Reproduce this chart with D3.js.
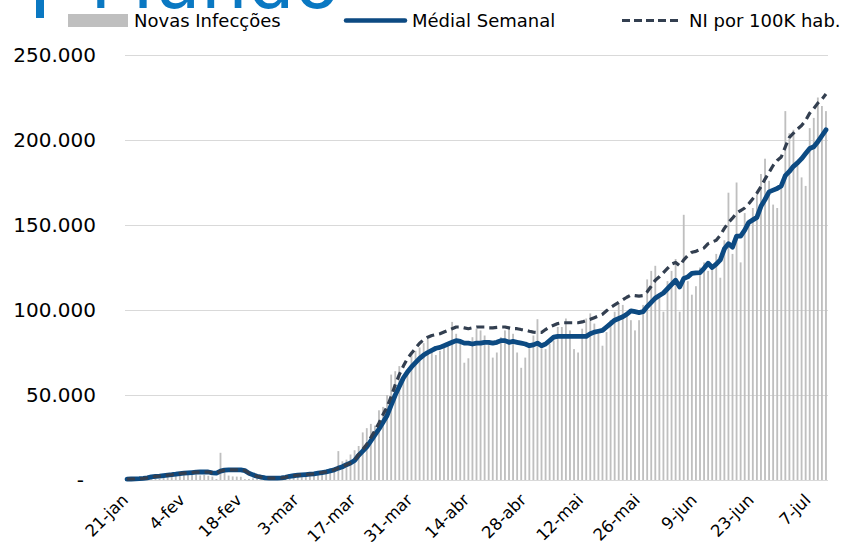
<!DOCTYPE html>
<html><head><meta charset="utf-8">
<script src="https://cdn.jsdelivr.net/npm/d3@7/dist/d3.min.js"></script>
<style>
html,body{margin:0;padding:0;background:#fff;}
svg{display:block;font-family:"DejaVu Sans",sans-serif;}
</style></head>
<body><svg id="chart" width="846" height="545"></svg>
<script>
// ---- data (values in thousands) ----
const tickLabels = ["21-jan","4-fev","18-fev","3-mar","17-mar","31-mar","14-abr","28-abr","12-mai","26-mai","9-jun","23-jun","7-jul"];
const yTicks = [0, 50, 100, 150, 200, 250];
const newCasesK = [0.3,0.1,0.3,0.5,0.7,0.8,1.2,2.6,0.6,2.0,
1.7,2.1,2.6,3.0,3.9,3.7,3.2,3.4,2.7,3.0,
2.5,2.0,0.6,16.0,5.1,2.6,2.1,2.0,1.9,0.5,
0.6,1.0,1.3,0.3,0.5,0.9,1.0,1.3,1.4,1.8,
1.9,2.0,2.4,2.2,2.7,3.9,3.8,4.1,3.8,4.6,
7.0,7.2,17.0,11.0,12.0,15.0,17.5,20.0,28.0,30.5,
33.0,32.0,41.0,43.0,50.0,62.0,64.0,67.0,60.0,62.0,
75.0,76.0,78.0,80.5,83.0,77.0,73.5,76.0,78.0,80.5,
93.0,86.0,80.0,69.0,71.6,84.0,89.0,88.0,85.0,80.0,
72.0,75.0,84.0,88.0,89.0,86.0,75.0,66.0,72.0,79.0,
85.0,94.6,79.0,77.0,80.0,82.0,90.0,90.0,95.0,88.0,
77.0,75.0,89.0,95.0,98.0,92.0,88.0,79.0,87.0,94.0,
99.0,104.0,103.0,99.0,94.0,88.0,94.0,103.0,118.0,123.0,
126.0,110.0,99.0,117.0,123.0,130.0,99.0,156.0,117.0,109.0,
114.0,125.0,128.0,123.0,126.0,133.0,119.0,141.0,169.0,133.0,
175.0,128.0,157.0,153.0,160.0,168.0,180.0,189.0,176.0,162.0,
160.0,175.0,217.0,204.0,206.0,185.0,178.0,173.0,207.0,213.0,
225.0,220.0,217.0];
const weeklyAvgK = [0.5,0.6,0.7,0.8,1.0,1.3,1.8,2.1,2.3,2.6,
2.9,3.1,3.4,3.8,4.0,4.2,4.4,4.6,4.7,4.7,
4.7,4.2,4.0,5.2,5.8,5.9,5.9,5.9,5.9,5.5,
4.0,3.0,2.2,1.7,1.3,1.1,1.1,1.1,1.2,1.6,
2.2,2.5,2.8,3.0,3.2,3.4,3.6,4.0,4.4,4.8,
5.4,6.0,7.0,7.8,9.0,10.0,11.5,14.5,17.0,19.5,
23.0,26.5,30.0,34.0,38.0,44.0,50.0,55.0,60.0,63.5,
66.5,69.0,71.5,73.5,75.0,76.3,77.5,78.0,79.0,80.0,
81.0,82.0,81.5,80.5,80.5,80.0,80.5,80.5,81.0,81.0,
80.5,81.0,82.0,82.0,81.0,81.5,81.0,80.5,80.0,79.0,
79.5,80.5,79.0,80.0,82.0,84.0,84.5,84.5,84.5,84.5,
84.5,84.5,84.5,84.5,86.0,87.0,87.5,88.0,90.0,92.0,
94.0,95.0,96.0,97.5,99.5,99.0,98.5,99.0,102.0,104.5,
107.0,108.5,110.0,112.5,115.0,117.5,113.5,118.5,119.5,121.5,
121.8,122.0,124.5,127.5,125.0,127.0,129.5,136.0,139.0,137.0,
143.5,143.5,147.0,151.5,153.0,154.5,161.0,165.0,169.5,170.5,
171.5,173.0,179.0,181.5,184.5,186.5,189.0,192.0,195.0,196.0,
199.0,202.5,206.0];
const per100kK = [0.5,0.6,0.7,0.8,1.0,1.3,1.8,2.1,2.3,2.6,
2.9,3.1,3.4,3.8,4.0,4.2,4.4,4.6,4.7,4.7,
4.7,4.2,4.0,5.2,5.8,5.9,5.9,5.9,5.9,5.5,
4.0,3.0,2.2,1.7,1.3,1.1,1.1,1.1,1.2,1.6,
2.2,2.5,2.8,3.0,3.2,3.4,3.6,4.0,4.4,4.8,
5.4,6.0,7.0,7.8,9.0,10.0,11.5,15.0,18.0,21.0,
25.0,29.0,33.5,38.5,43.0,49.0,56.0,62.0,67.0,71.5,
74.5,77.5,80.5,82.5,84.0,85.0,85.5,86.0,87.0,88.0,
89.0,90.0,90.0,89.5,89.0,89.5,90.0,90.0,90.0,89.5,
89.5,89.8,90.0,90.0,89.5,89.0,89.0,88.5,88.2,87.5,
87.0,86.8,86.8,88.5,90.0,91.0,92.0,92.5,92.5,92.5,
92.5,92.5,93.0,93.8,94.5,95.5,96.5,97.5,99.5,101.5,
103.0,104.5,106.0,107.5,108.8,108.5,108.2,108.5,110.7,114.0,
117.5,119.5,122.0,124.5,127.0,128.0,126.0,129.5,132.0,134.0,
134.5,135.5,136.5,139.0,140.0,141.0,144.0,148.0,151.5,154.0,
157.0,158.5,160.0,162.5,165.5,168.7,172.5,177.0,181.0,185.0,
188.0,190.0,196.0,201.6,204.0,206.5,208.5,211.5,215.8,218.5,
221.7,224.0,227.0];
const UNIT = 1000;
const tickEvery = 14;

// ---- build ----
const svg = d3.select("#chart");
const days = d3.range(newCasesK.length);
const x = d3.scaleBand().domain(days).range([125, 828]).paddingInner(0.55).paddingOuter(0.275);
const xc = d => x(d) + x.bandwidth() / 2;
const y = d3.scaleLinear().domain([0, 250 * UNIT]).range([480, 55]);

// title (clipped at top)
svg.append("rect").attr("x", 36).attr("y", 0).attr("width", 8).attr("height", 18).attr("fill", "#0A78C2");
svg.append("text").attr("x", 90).attr("y", 8).attr("font-size", 74).attr("fill", "#0A78C2").text("Mundo");

// grid
svg.append("g").selectAll("line").data(yTicks).join("line")
  .attr("x1", 125).attr("x2", 828)
  .attr("y1", d => Math.round(y(d * UNIT)) + 0.5).attr("y2", d => Math.round(y(d * UNIT)) + 0.5)
  .attr("stroke", "#D9D9D9").attr("stroke-width", 1);

// y axis labels
const yAxis = d3.axisLeft(y).tickValues(yTicks.map(d => d * UNIT)).tickSize(0).tickPadding(0)
  .tickFormat(v => v === 0 ? "-" : d3.format(",")(v).replace(/,/g, "."));
const gy = svg.append("g").attr("transform", "translate(96,0)").call(yAxis);
gy.select(".domain").remove();
gy.selectAll("text").attr("font-family", "DejaVu Sans").attr("font-size", 20).attr("fill", "#000")
  .attr("dx", v => v === 0 ? -12 : 0);

// bars
svg.append("g").selectAll("rect").data(days).join("rect")
  .attr("x", d => x(d)).attr("width", x.bandwidth())
  .attr("y", d => y(newCasesK[d] * UNIT)).attr("height", d => y(0) - y(newCasesK[d] * UNIT))
  .attr("fill", "#BFBFBF");

// lines
const line = arr => d3.line().x(d => xc(d)).y(d => y(arr[d] * UNIT)).curve(d3.curveLinear)(days);
svg.append("path").attr("d", line(weeklyAvgK)).attr("fill", "none")
  .attr("stroke", "#0C4A82").attr("stroke-width", 4.8).attr("stroke-linejoin", "round").attr("stroke-linecap", "round");
svg.append("path").attr("d", line(per100kK)).attr("fill", "none")
  .attr("stroke", "#333F50").attr("stroke-width", 3.2).attr("stroke-dasharray", "8,5").attr("stroke-linejoin", "round");

// x axis labels
const xAxis = d3.axisBottom(x).tickValues(days.filter(d => d % tickEvery === 0)).tickSize(0)
  .tickFormat(d => tickLabels[d / tickEvery]);
const gx = svg.append("g").call(xAxis);
gx.select(".domain").remove();
gx.selectAll(".tick").attr("transform", d => `translate(${xc(d) + 2},501)`);
gx.selectAll("text").attr("font-family", "DejaVu Sans").attr("font-size", 16.5).attr("fill", "#000")
  .attr("text-anchor", "end").attr("x", 0).attr("y", 0).attr("dy", 0)
  .attr("transform", "rotate(-45)");

// legend
const lg = svg.append("g").attr("font-size", 18).attr("fill", "#000");
lg.append("rect").attr("x", 68).attr("y", 14).attr("width", 60).attr("height", 13).attr("fill", "#BFBFBF");
lg.append("text").attr("x", 134).attr("y", 27).text("Novas Infecções");
lg.append("line").attr("x1", 346).attr("x2", 405).attr("y1", 20.5).attr("y2", 20.5)
  .attr("stroke", "#0C4A82").attr("stroke-width", 4.5).attr("stroke-linecap", "round");
lg.append("text").attr("x", 412).attr("y", 27).text("Médial Semanal");
lg.append("line").attr("x1", 622).attr("x2", 680).attr("y1", 20.5).attr("y2", 20.5)
  .attr("stroke", "#333F50").attr("stroke-width", 3.2).attr("stroke-dasharray", "8,4");
lg.append("text").attr("x", 689).attr("y", 27).text("NI por 100K hab.");
</script></body></html>
